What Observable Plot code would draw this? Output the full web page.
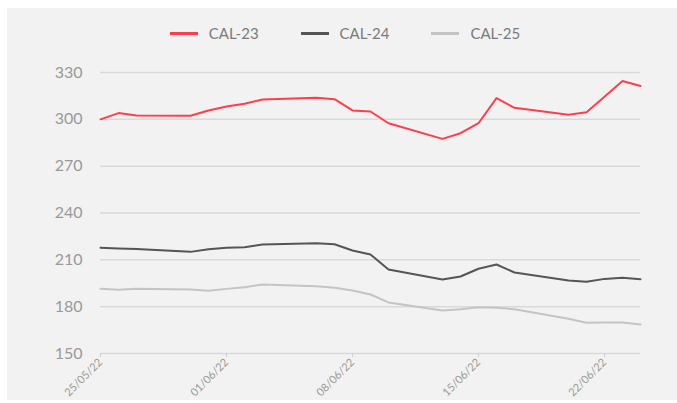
<!DOCTYPE html>
<html>
<head>
<meta charset="utf-8">
<script src="https://cdn.jsdelivr.net/npm/d3@7"></script>
<script src="https://cdn.jsdelivr.net/npm/@observablehq/plot@0.6"></script>
<style>
  html, body { margin: 0; padding: 0; background: #ffffff; }
  #panel { position: absolute; left: 7px; top: 8px; width: 670px; height: 392px; background: #f2f2f2; overflow: hidden; }
  #legend { height: 50px; display: flex; justify-content: center; align-items: center; padding-left: 6px; box-sizing: border-box;
            font-family: Lato, "Open Sans", sans-serif; font-size: 15px; color: #7a7a7a; }
  .item { display: flex; align-items: center; margin: 0 21px; }
  .sw { width: 28px; height: 3px; margin-right: 11px; }
  #chart svg { display: block; }
</style>
</head>
<body>
<div id="panel">
  <div id="legend"></div>
  <div id="chart"></div>
</div>
<script>
// ---- data ----
const dates = ["2022-05-25","2022-05-26","2022-05-27","2022-05-30","2022-05-31","2022-06-01","2022-06-02","2022-06-03",
  "2022-06-06","2022-06-07","2022-06-08","2022-06-09","2022-06-10","2022-06-13","2022-06-14","2022-06-15","2022-06-16",
  "2022-06-17","2022-06-20","2022-06-21","2022-06-22","2022-06-23","2022-06-24"];
const cal23 = [300, 304, 302.5, 302.3, 305.7, 308.2, 310, 312.7, 313.8, 312.9, 305.7, 305, 297.5, 287.5, 291.1, 297.5, 313.6, 307.4, 302.9, 304.6, 314.5, 324.5, 321.3];
const cal24 = [217.7, 217.3, 217, 215.1, 216.8, 217.7, 218.1, 219.8, 220.7, 220, 216, 213.4, 203.8, 197.4, 199.3, 204.3, 207, 201.9, 196.8, 195.9, 197.8, 198.5, 197.6];
const cal25 = [191.4, 190.8, 191.4, 191, 190.2, 191.4, 192.5, 194.2, 193.1, 192.1, 190.4, 187.8, 182.7, 177.5, 178.4, 179.7, 179.3, 178.4, 172.2, 169.7, 169.9, 169.9, 168.6];
const seriesNames = ["CAL-23", "CAL-24", "CAL-25"];
const seriesColors = ["#ff3d4d", "#555555", "#c4c4c4"];
const yTicks = [150, 180, 210, 240, 270, 300, 330];
const xTickLabels = ["2022-05-25", "2022-06-01", "2022-06-08", "2022-06-15", "2022-06-22"];
const xDomain = ["2022-05-25", "2022-06-24"];

// ---- build ----
const parse = d3.utcParse("%Y-%m-%d");
const allValues = [cal23, cal24, cal25];
const rows = [];
seriesNames.forEach((name, i) => {
  dates.forEach((d, j) => rows.push({series: name, date: parse(d), value: allValues[i][j]}));
});

const legend = document.getElementById("legend");
seriesNames.forEach((name, i) => {
  const it = document.createElement("div");
  it.className = "item";
  const sw = document.createElement("div");
  sw.className = "sw";
  sw.style.background = seriesColors[i];
  const tx = document.createElement("span");
  tx.textContent = name;
  it.appendChild(sw); it.appendChild(tx);
  legend.appendChild(it);
});

const chart = Plot.plot({
  width: 670,
  height: 342,
  marginLeft: 93,
  marginRight: 37,
  marginTop: 14,
  marginBottom: 47,
  style: {background: "transparent", fontFamily: "Lato, 'Open Sans', sans-serif", color: "#999999"},
  x: {type: "utc", domain: xDomain.map(parse)},
  y: {domain: [150, 330]},
  color: {domain: seriesNames, range: seriesColors},
  marks: [
    Plot.ruleY(yTicks, {stroke: "#d9d9d9", strokeWidth: 1.5}),
    Plot.axisY({ticks: yTicks, tickSize: 0, tickPadding: 18, fontSize: 16, label: null}),
    Plot.axisX({ticks: xTickLabels.map(parse), tickFormat: d3.utcFormat("%d/%m/%y"), tickRotate: -45,
                tickSize: 4, tickPadding: 3, fontSize: 11, stroke: "#d0d0d0", label: null}),
    Plot.lineY(rows, {x: "date", y: "value", z: "series", stroke: "series", strokeWidth: 2})
  ]
});
document.getElementById("chart").appendChild(chart);
</script>
</body>
</html>
